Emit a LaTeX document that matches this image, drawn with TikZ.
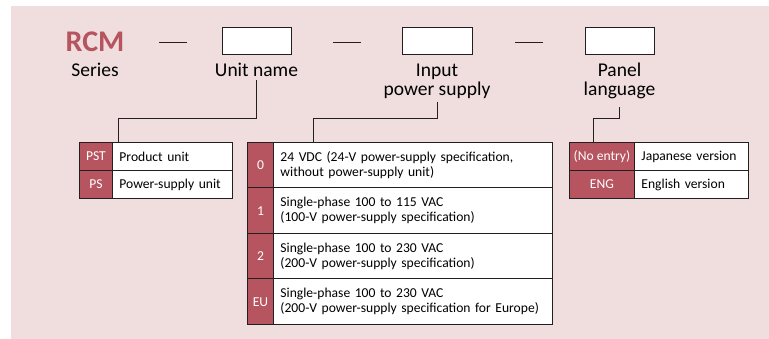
\documentclass[tikz,border=0pt]{standalone}
\usepackage{fontspec}
\setmainfont{Carlito}
\usepackage{tikz}
\usetikzlibrary{positioning}
\definecolor{rcmred}{HTML}{B6545F}
\definecolor{panelpink}{HTML}{EFDEDD}
\definecolor{rulegray}{HTML}{231F20}
\newcommand{\tabfont}{\fontsize{13.6}{15}\selectfont\hyphenpenalty=10000\relax}

\begin{document}
\begin{tikzpicture}[x=1pt, y=-1pt,
    label/.style={inner sep=3pt, font=\fontsize{19.5}{19}\selectfont, align=center},
    codecell/.style={draw=rulegray, line width=0.9pt, fill=rcmred, text=white,
      anchor=north west, inner sep=0pt, font=\tabfont},
    textcell/.style={draw=rulegray, line width=0.9pt, fill=white, anchor=north west,
      inner xsep=7pt, inner ysep=0pt, align=left, font=\tabfont},
    slot/.style={draw=rulegray, line width=0.9pt, fill=white, minimum width=69pt, minimum height=27pt},
    link/.style={draw=rulegray, line width=0.9pt}
]
  \useasboundingbox (0,0) rectangle (769,339);
  % Panel
  \fill[panelpink] (11,6) rectangle (769,339);

  % Model code line
  \node[anchor=base, inner sep=0pt, text=rcmred, font=\fontsize{30}{30}\bfseries\selectfont] (rcm) at (95,52) {RCM};
  \node[label, anchor=base] (series) at (95,77) {Series};
  \foreach \x in {159,333,515}
    \draw[link] (\x,42) -- ++(27.5,0);
  \node[slot] (unitbox) at (256.5,40.5) {};
  \node[slot, minimum width=70pt] (inputbox) at (437,40.5) {};
  \node[slot] (langbox) at (619.5,40.5) {};

  % Field labels
  \node[label, anchor=base] (unitname) at (256.5,77) {Unit name};
  \node[label, anchor=base] (inputps) at (437,95.5) {Input\\power supply};
  \node[label, anchor=base] (panellang) at (619.5,95.5) {Panel\\language};

  % Unit name table
  \node[codecell, minimum width=33pt, minimum height=28pt] (pstc) at (79,142) {PST};
  \node[textcell, text width=106pt, minimum height=28pt] (pstt) at (112,142) {Product unit};
  \node[codecell, minimum width=33pt, minimum height=28pt] (psc) at (79,170) {PS};
  \node[textcell, text width=106pt, minimum height=28pt] (pst) at (112,170) {Power-supply unit};

  % Input power supply table
  \node[codecell, minimum width=26pt, minimum height=45.5pt] (zeroc) at (247,142) {0};
  \node[textcell, text width=265pt, minimum height=45.5pt] (zerot) at (273,142)
    {24 VDC (24-V power-supply specification,\\without power-supply unit)};
  \node[codecell, minimum width=26pt, minimum height=45.5pt] (onec) at (247,187.5) {1};
  \node[textcell, text width=265pt, minimum height=45.5pt] (onet) at (273,187.5)
    {Single-phase 100 to 115 VAC\\(100-V power-supply specification)};
  \node[codecell, minimum width=26pt, minimum height=45.5pt] (twoc) at (247,233) {2};
  \node[textcell, text width=265pt, minimum height=45.5pt] (twot) at (273,233)
    {Single-phase 100 to 230 VAC\\(200-V power-supply specification)};
  \node[codecell, minimum width=26pt, minimum height=45.5pt] (euc) at (247,278.5) {EU};
  \node[textcell, text width=265pt, minimum height=45.5pt] (eut) at (273,278.5)
    {Single-phase 100 to 230 VAC\\(200-V power-supply specification for Europe)};

  % Panel language table
  \node[codecell, minimum width=65pt, minimum height=28pt] (noc) at (569,142) {(No entry)};
  \node[textcell, text width=100pt, minimum height=28pt] (jpt) at (634,142) {Japanese version};
  \node[codecell, minimum width=65pt, minimum height=28pt] (engc) at (569,170) {ENG};
  \node[textcell, text width=100pt, minimum height=28pt] (engt) at (634,170) {English version};

  % Leader lines
  \coordinate (bus) at (0,118);
  \draw[link] (unitname.south) -- (unitname.south |- bus) -| ([xshift=6pt]pstt.north west);
  \draw[link] (inputps.south) -- (inputps.south |- bus) -| ([xshift=40pt]zerot.north west);
  \draw[link] ([yshift=-5pt]panellang.south) -- (panellang.south |- bus) -| ([xshift=24pt]noc.north west);
\end{tikzpicture}
\end{document}
